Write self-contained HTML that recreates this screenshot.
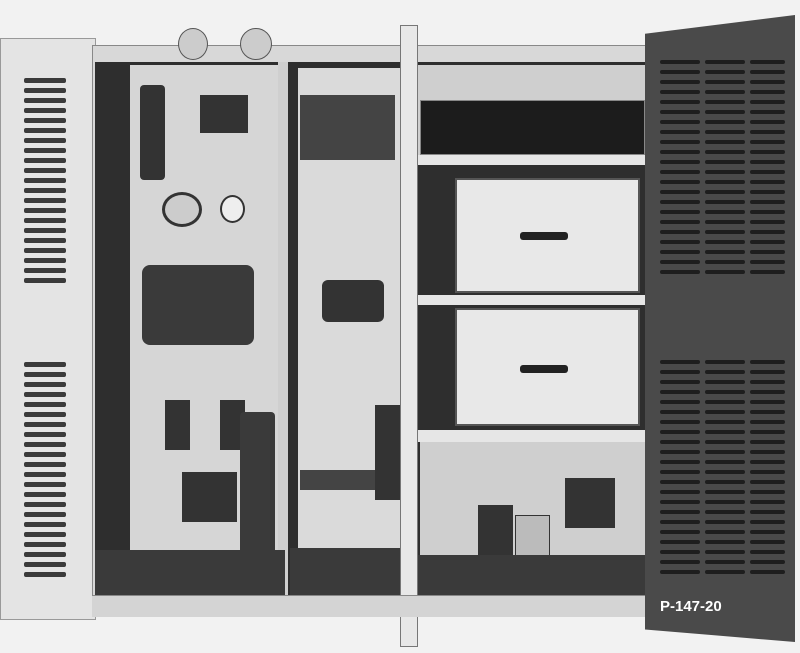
<!DOCTYPE html>
<html><head><style>
body{margin:0;width:800px;height:653px;background:#f2f2f2;position:relative;overflow:hidden;font-family:"Liberation Sans",sans-serif}
div{position:absolute;box-sizing:border-box}
.sl{background:#3a3a3a;height:5px;border-radius:2px}
.ds{background:#1e1e1e;height:4px;border-radius:2px}
</style></head><body>
<!-- left door -->
<div style="left:0;top:38px;width:96px;height:582px;background:#e4e4e4;border:1px solid #999"></div>
<div id="lv1" style="left:24px;top:78px;width:42px;height:210px"></div>
<div id="lv2" style="left:24px;top:362px;width:42px;height:218px"></div>
<!-- cabinet frame -->
<div style="left:92px;top:45px;width:560px;height:572px;background:#d8d8d8;border:1px solid #888"></div>
<div style="left:95px;top:62px;width:555px;height:535px;background:#2e2e2e"></div>
<!-- left compartment back panel -->
<div style="left:130px;top:65px;width:148px;height:485px;background:#d6d6d6"></div>
<div style="left:278px;top:62px;width:10px;height:535px;background:#cfcfcf"></div>
<!-- middle compartment -->
<div style="left:298px;top:68px;width:102px;height:480px;background:#dadada"></div>
<!-- divider pole -->
<div style="left:400px;top:25px;width:18px;height:622px;background:#e8e8e8;border:1px solid #777"></div>
<!-- right compartment -->
<div style="left:418px;top:65px;width:230px;height:90px;background:#cfcfcf"></div>
<div style="left:420px;top:100px;width:225px;height:55px;background:#1c1c1c;border:1px solid #888"></div>
<div style="left:418px;top:155px;width:232px;height:10px;background:#e6e6e6"></div>
<div style="left:418px;top:295px;width:232px;height:10px;background:#e6e6e6"></div>
<div style="left:418px;top:430px;width:232px;height:12px;background:#e6e6e6"></div>
<div style="left:455px;top:178px;width:185px;height:115px;background:#e8e8e8;border:2px solid #555"></div>
<div style="left:455px;top:308px;width:185px;height:118px;background:#e8e8e8;border:2px solid #555"></div>
<div style="left:520px;top:232px;width:48px;height:8px;background:#222;border-radius:3px"></div>
<div style="left:520px;top:365px;width:48px;height:8px;background:#222;border-radius:3px"></div>
<div style="left:420px;top:442px;width:225px;height:115px;background:#cfcfcf"></div>
<div style="left:478px;top:505px;width:35px;height:55px;background:#333"></div>
<div style="left:515px;top:515px;width:35px;height:45px;background:#bbb;border:1px solid #333"></div>
<div style="left:565px;top:478px;width:50px;height:50px;background:#333"></div>
<div style="left:465px;top:562px;width:105px;height:20px;background:#eee"></div>
<!-- left compartment components -->
<div style="left:140px;top:85px;width:25px;height:95px;background:#333;border-radius:4px"></div>
<div style="left:200px;top:95px;width:48px;height:38px;background:#333"></div>
<div style="left:162px;top:192px;width:40px;height:35px;background:#ccc;border:3px solid #333;border-radius:50%"></div>
<div style="left:220px;top:195px;width:25px;height:28px;background:#eee;border:2px solid #333;border-radius:50%"></div>
<div style="left:142px;top:265px;width:112px;height:80px;background:#3a3a3a;border-radius:8px"></div>
<div style="left:165px;top:400px;width:25px;height:50px;background:#333"></div>
<div style="left:220px;top:400px;width:25px;height:50px;background:#333"></div>
<div style="left:240px;top:412px;width:35px;height:150px;background:#3a3a3a;border-radius:4px"></div>
<div style="left:182px;top:472px;width:55px;height:50px;background:#333"></div>
<div style="left:95px;top:550px;width:190px;height:45px;background:#3a3a3a"></div>
<!-- middle components -->
<div style="left:300px;top:95px;width:95px;height:65px;background:#444"></div>
<div style="left:322px;top:280px;width:62px;height:42px;background:#333;border-radius:6px"></div>
<div style="left:375px;top:405px;width:25px;height:95px;background:#333"></div>
<div style="left:300px;top:470px;width:75px;height:20px;background:#444"></div>
<div style="left:290px;top:548px;width:110px;height:47px;background:#3a3a3a"></div>
<div style="left:418px;top:555px;width:232px;height:40px;background:#3a3a3a"></div>
<!-- insulators -->
<div style="left:178px;top:28px;width:30px;height:32px;background:#ccc;border:1px solid #555;border-radius:50%"></div>
<div style="left:240px;top:28px;width:32px;height:32px;background:#ccc;border:1px solid #555;border-radius:50%"></div>
<!-- bottom rail -->
<div style="left:92px;top:595px;width:560px;height:22px;background:#d4d4d4;border-top:1px solid #888"></div>
<!-- right door -->
<div style="left:645px;top:15px;width:150px;height:627px;background:#4a4a4a;clip-path:polygon(0 3%,100% 0,100% 100%,0 98%)"></div>
<div id="rv" style="left:660px;top:60px;width:125px;height:520px"></div>
<div style="left:660px;top:598px;color:#fff;font-size:15px;font-weight:bold">P-147-20</div>
<script>
function slats(id,n,gap,cls){var e=document.getElementById(id);for(var i=0;i<n;i++){var d=document.createElement('div');d.className=cls;d.style.left='0';d.style.width='100%';d.style.top=(i*gap)+'px';e.appendChild(d);}}
slats('lv1',21,10,'sl');slats('lv2',22,10,'sl');
var rv=document.getElementById('rv');
[[0,40],[45,40],[90,35]].forEach(function(c){for(var g=0;g<2;g++){for(var i=0;i<22;i++){var d=document.createElement('div');d.className='ds';d.style.left=c[0]+'px';d.style.width=c[1]+'px';d.style.top=(g*300+i*10)+'px';rv.appendChild(d);}}});
</script>
</body></html>
